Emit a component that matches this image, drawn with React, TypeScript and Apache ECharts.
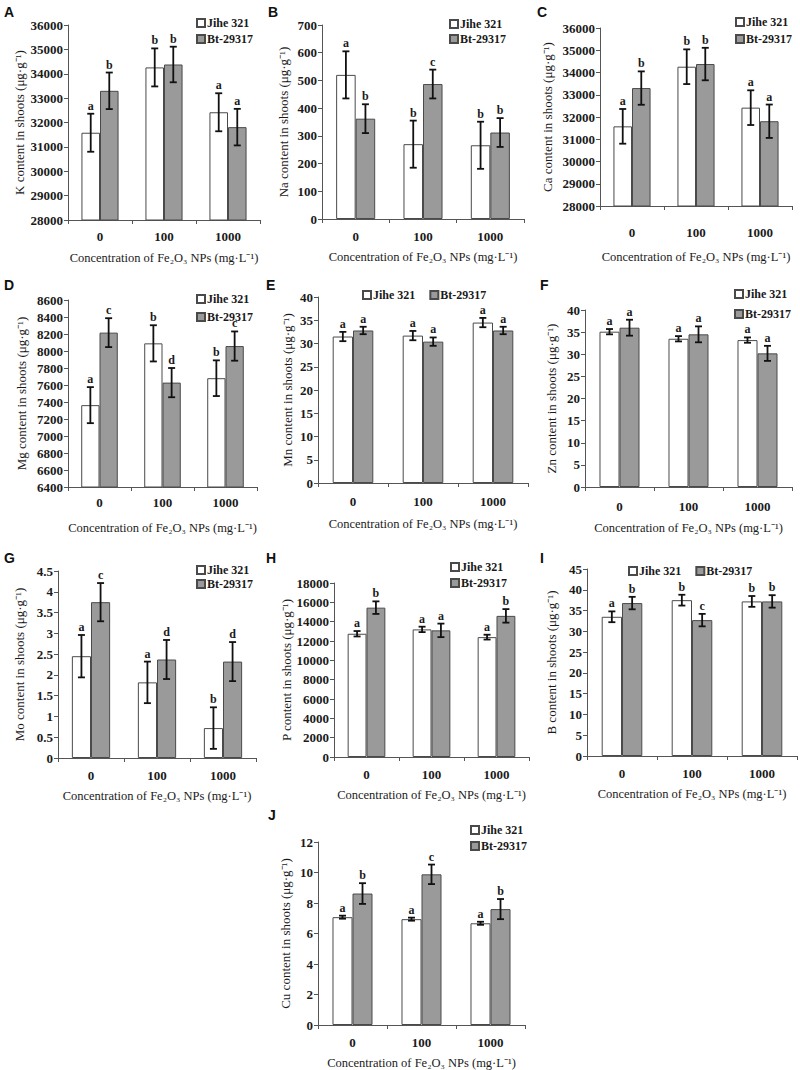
import React, { useEffect, useRef } from 'react';
import * as echarts from 'echarts';

const categories = ['0', '100', '1000'];
const seriesNames = ['Jihe 321', 'Bt-29317'];

// A: K
const kJihe = [31580, 34260, 32420];
const kJiheErr = [780, 780, 780];
const kBt = [33300, 34380, 31810];
const kBtErr = [750, 730, 750];
const kJiheSig = ['a', 'b', 'a'];
const kBtSig = ['b', 'b', 'a'];
// B: Na
const naJihe = [520, 270, 266];
const naJiheErr = [85, 85, 85];
const naBt = [362, 487, 312];
const naBtErr = [52, 52, 52];
const naJiheSig = ['a', 'b', 'b'];
const naBtSig = ['b', 'c', 'b'];
// C: Ca
const caJihe = [31580, 34260, 32420];
const caJiheErr = [780, 780, 780];
const caBt = [33300, 34380, 31810];
const caBtErr = [750, 730, 750];
const caJiheSig = ['a', 'b', 'a'];
const caBtSig = ['b', 'b', 'a'];
// D: Mg
const mgJihe = [7363, 8090, 7680];
const mgJiheErr = [212, 213, 210];
const mgBt = [8216, 7628, 8058];
const mgBtErr = [170, 172, 172];
const mgJiheSig = ['a', 'b', 'b'];
const mgBtSig = ['c', 'd', 'c'];
// E: Mn
const mnJihe = [31.5, 31.7, 34.5];
const mnJiheErr = [1.0, 1.0, 1.0];
const mnBt = [32.8, 30.4, 32.8];
const mnBtErr = [0.8, 0.9, 0.8];
const mnJiheSig = ['a', 'a', 'a'];
const mnBtSig = ['a', 'a', 'a'];
// F: Zn
const znJihe = [35.1, 33.5, 33.2];
const znJiheErr = [0.6, 0.6, 0.6];
const znBt = [36.0, 34.5, 30.2];
const znBtErr = [1.8, 1.8, 1.7];
const znJiheSig = ['a', 'a', 'a'];
const znBtSig = ['a', 'a', 'a'];
// G: Mo
const moJihe = [2.45, 1.82, 0.72];
const moJiheErr = [0.51, 0.5, 0.5];
const moBt = [3.75, 2.37, 2.32];
const moBtErr = [0.46, 0.47, 0.47];
const moJiheSig = ['a', 'a', 'b'];
const moBtSig = ['c', 'd', 'd'];
// H: P
const pJihe = [12750, 13200, 12400];
const pJiheErr = [280, 280, 250];
const pBt = [15450, 13100, 14600];
const pBtErr = [650, 700, 700];
const pJiheSig = ['a', 'a', 'a'];
const pBtSig = ['b', 'a', 'b'];
// I: B
const bJihe = [33.5, 37.5, 37.2];
const bJiheErr = [1.3, 1.3, 1.3];
const bBt = [36.8, 32.7, 37.2];
const bBtErr = [1.5, 1.5, 1.5];
const bJiheSig = ['a', 'b', 'b'];
const bBtSig = ['b', 'c', 'b'];
// J: Cu
const cuJihe = [7.07, 6.94, 6.67];
const cuJiheErr = [0.1, 0.1, 0.1];
const cuBt = [8.62, 9.88, 7.6];
const cuBtErr = [0.68, 0.64, 0.66];
const cuJiheSig = ['a', 'a', 'a'];
const cuBtSig = ['b', 'c', 'b'];

const panelData = [
  { letter: 'A', el: 'K', min: 28000, max: 36000, interval: 1000, j: kJihe, je: kJiheErr, b: kBt, be: kBtErr, js: kJiheSig, bs: kBtSig },
  { letter: 'B', el: 'Na', min: 0, max: 700, interval: 100, j: naJihe, je: naJiheErr, b: naBt, be: naBtErr, js: naJiheSig, bs: naBtSig },
  { letter: 'C', el: 'Ca', min: 28000, max: 36000, interval: 1000, j: caJihe, je: caJiheErr, b: caBt, be: caBtErr, js: caJiheSig, bs: caBtSig },
  { letter: 'D', el: 'Mg', min: 6400, max: 8600, interval: 200, j: mgJihe, je: mgJiheErr, b: mgBt, be: mgBtErr, js: mgJiheSig, bs: mgBtSig },
  { letter: 'E', el: 'Mn', min: 0, max: 40, interval: 5, j: mnJihe, je: mnJiheErr, b: mnBt, be: mnBtErr, js: mnJiheSig, bs: mnBtSig },
  { letter: 'F', el: 'Zn', min: 0, max: 40, interval: 5, j: znJihe, je: znJiheErr, b: znBt, be: znBtErr, js: znJiheSig, bs: znBtSig },
  { letter: 'G', el: 'Mo', min: 0, max: 4.5, interval: 0.5, j: moJihe, je: moJiheErr, b: moBt, be: moBtErr, js: moJiheSig, bs: moBtSig },
  { letter: 'H', el: 'P', min: 0, max: 18000, interval: 2000, j: pJihe, je: pJiheErr, b: pBt, be: pBtErr, js: pJiheSig, bs: pBtSig },
  { letter: 'I', el: 'B', min: 0, max: 45, interval: 5, j: bJihe, je: bJiheErr, b: bBt, be: bBtErr, js: bJiheSig, bs: bBtSig },
  { letter: 'J', el: 'Cu', min: 0, max: 12, interval: 2, j: cuJihe, je: cuJiheErr, b: cuBt, be: cuBtErr, js: cuJiheSig, bs: cuBtSig },
];

// layout (positions only)
const layouts = [
  { grid: { left: 68, top: 25, width: 192, height: 195 }, lg: { left: 196, top: 17, orient: 'vertical', itemGap: 4 }, lx: 4, ly: 5, xm: 10, xng: 31, yng: 42 },
  { grid: { left: 322, top: 25, width: 202, height: 194 }, lg: { left: 449, top: 18, orient: 'vertical', itemGap: 3 }, lx: 268, ly: 5, xm: 11, xng: 31, yng: 32 },
  { grid: { left: 600, top: 28, width: 192, height: 178 }, lg: { left: 735, top: 16, orient: 'vertical', itemGap: 5 }, lx: 537, ly: 5, xm: 20, xng: 44, yng: 46 },
  { grid: { left: 68, top: 300, width: 189, height: 187 }, lg: { left: 196, top: 293, orient: 'vertical', itemGap: 6 }, lx: 4, ly: 278, xm: 9, xng: 34, yng: 40 },
  { grid: { left: 318, top: 297, width: 210, height: 186 }, lg: { left: 362, top: 289, orient: 'horizontal', itemGap: 14 }, lx: 266, ly: 278, xm: 12, xng: 34, yng: 24 },
  { grid: { left: 585, top: 310, width: 207, height: 177 }, lg: { left: 734, top: 288, orient: 'vertical', itemGap: 8 }, lx: 540, ly: 278, xm: 13, xng: 34, yng: 27 },
  { grid: { left: 58, top: 571, width: 198, height: 187 }, lg: { left: 196, top: 564, orient: 'vertical', itemGap: 2 }, lx: 4, ly: 551, xm: 11, xng: 31, yng: 32 },
  { grid: { left: 334, top: 583, width: 195, height: 174 }, lg: { left: 450, top: 561, orient: 'vertical', itemGap: 4 }, lx: 266, ly: 551, xm: 11, xng: 31, yng: 41 },
  { grid: { left: 587, top: 569, width: 210, height: 187 }, lg: { left: 628, top: 565, orient: 'horizontal', itemGap: 14 }, lx: 540, ly: 551, xm: 11, xng: 31, yng: 29 },
  { grid: { left: 318, top: 842, width: 207, height: 183 }, lg: { left: 470, top: 824, orient: 'vertical', itemGap: 4 }, lx: 268, ly: 808, xm: 11, xng: 31, yng: 26 },
];

const SERIF = "'Liberation Serif', 'Times New Roman', serif";
const GAP = 0.42;
const AXIS_COLOR = '#555';
const TEXT_COLOR = '#1a1a1a';

function buildOption() {
  const grids: any[] = [];
  const xAxes: any[] = [];
  const yAxes: any[] = [];
  const legends: any[] = [];
  const series: any[] = [];
  const graphics: any[] = [];

  panelData.forEach((p, i) => {
    const L = layouts[i];
    grids.push({ ...L.grid, containLabel: false });
    xAxes.push({
      type: 'category',
      gridIndex: i,
      data: categories,
      name: 'Concentration of Fe₂O₃ NPs (mg·L⁻¹)',
      nameLocation: 'middle',
      nameGap: L.xng,
      nameTextStyle: { fontFamily: SERIF, fontSize: 12.5, color: TEXT_COLOR },
      axisLine: { lineStyle: { color: AXIS_COLOR, width: 1 } },
      axisTick: { show: true, length: 4, lineStyle: { color: AXIS_COLOR } },
      axisLabel: { fontFamily: SERIF, fontSize: 13, fontWeight: 'bold', color: TEXT_COLOR, margin: L.xm },
      splitLine: { show: false },
    });
    yAxes.push({
      type: 'value',
      gridIndex: i,
      min: p.min,
      max: p.max,
      interval: p.interval,
      name: p.el + ' content in shoots (μg·g⁻¹)',
      nameLocation: 'middle',
      nameGap: L.yng,
      nameRotate: 90,
      nameTextStyle: { fontFamily: SERIF, fontSize: 13, color: TEXT_COLOR },
      axisLine: { show: true, lineStyle: { color: AXIS_COLOR, width: 1 } },
      axisTick: { show: true, length: 4, lineStyle: { color: AXIS_COLOR } },
      axisLabel: {
        fontFamily: SERIF,
        fontSize: 13,
        fontWeight: 'bold',
        color: TEXT_COLOR,
        margin: 5,
        formatter: (v: number) => String(v),
      },
      splitLine: { show: false },
    });
    legends.push({
      data: seriesNames,
      left: L.lg.left,
      top: L.lg.top,
      orient: L.lg.orient,
      itemGap: L.lg.itemGap,
      itemWidth: 8,
      itemHeight: 8,
      icon: 'rect',
      padding: 0,
      selectedMode: false,
      textStyle: { fontFamily: SERIF, fontSize: 12, fontWeight: 'bold', color: TEXT_COLOR, padding: [0, 0, 0, -3] },
    });
    series.push({
      type: 'bar',
      name: seriesNames[0],
      xAxisIndex: i,
      yAxisIndex: i,
      data: p.j,
      barGap: '0%',
      barCategoryGap: GAP * 100 + '%',
      itemStyle: { color: '#ffffff', borderColor: '#4a4a4a', borderWidth: 1 },
    });
    series.push({
      type: 'bar',
      name: seriesNames[1],
      xAxisIndex: i,
      yAxisIndex: i,
      data: p.b,
      barGap: '0%',
      barCategoryGap: GAP * 100 + '%',
      itemStyle: { color: '#9a9a9a', borderColor: '#4a4a4a', borderWidth: 1 },
    });
    const errData: any[] = [];
    const letters: string[] = [];
    for (let c = 0; c < categories.length; c++) {
      errData.push([c, p.j[c], p.je[c], 0]);
      letters.push(p.js[c]);
      errData.push([c, p.b[c], p.be[c], 1]);
      letters.push(p.bs[c]);
    }
    series.push({
      type: 'custom',
      xAxisIndex: i,
      yAxisIndex: i,
      clip: false,
      z: 10,
      silent: true,
      data: errData,
      renderItem: (params: any, api: any) => {
        const cat = api.value(0);
        const v = api.value(1);
        const e = api.value(2);
        const side = api.value(3);
        const center = api.coord([cat, v]);
        const band = api.size([1, 0])[0];
        const bw = (band * (1 - GAP)) / 2;
        const x = center[0] + (side === 0 ? -bw / 2 : bw / 2);
        const top = api.coord([cat, v + e])[1];
        const bot = api.coord([cat, v - e])[1];
        const cap = 3.5;
        const ls = { stroke: '#111', lineWidth: 1.8 };
        return {
          type: 'group',
          children: [
            { type: 'line', shape: { x1: x, y1: top, x2: x, y2: bot }, style: ls },
            { type: 'line', shape: { x1: x - cap, y1: top, x2: x + cap, y2: top }, style: ls },
            { type: 'line', shape: { x1: x - cap, y1: bot, x2: x + cap, y2: bot }, style: ls },
            {
              type: 'text',
              x: x,
              y: top - 2,
              style: {
                text: letters[params.dataIndex],
                fill: TEXT_COLOR,
                fontFamily: SERIF,
                fontSize: 12,
                fontWeight: 'bold',
                align: 'center',
                verticalAlign: 'bottom',
              },
            },
          ],
        };
      },
    });
    graphics.push({
      type: 'text',
      left: L.lx,
      top: L.ly,
      style: {
        text: p.letter,
        fill: '#111',
        font: "bold 14px 'Liberation Sans', Arial, sans-serif",
      },
    });
  });

  return {
    animation: false,
    backgroundColor: '#ffffff',
    grid: grids,
    xAxis: xAxes,
    yAxis: yAxes,
    legend: legends,
    series,
    graphic: graphics,
  };
}

export default function App() {
  const ref = useRef<HTMLDivElement>(null);
  useEffect(() => {
    if (!ref.current) return;
    const chart = echarts.init(ref.current, undefined, { renderer: 'svg' });
    chart.setOption(buildOption() as any);
    return () => {
      chart.dispose();
    };
  }, []);
  return (
    <div
      ref={ref}
      style={{ position: 'absolute', left: 0, top: 0, width: 800, height: 1070, background: '#fff' }}
    />
  );
}
